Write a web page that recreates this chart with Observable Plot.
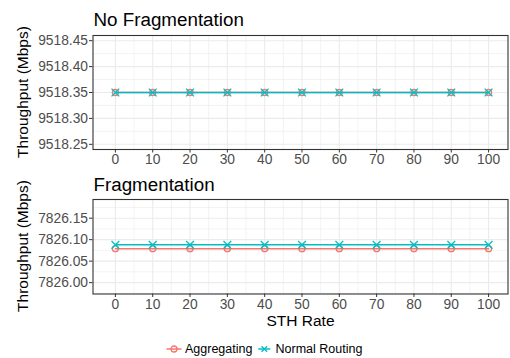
<!DOCTYPE html>
<html>
<head>
<meta charset="utf-8">
<script src="https://cdn.jsdelivr.net/npm/d3@7"></script>
<script src="https://cdn.jsdelivr.net/npm/@observablehq/plot@0.6"></script>
<style>
  html, body { margin: 0; padding: 0; background: white; }
  #root { position: relative; width: 510px; height: 358px; background: white; font-family: "Liberation Sans", Arial, Helvetica, sans-serif; overflow: hidden; }
  .abs { position: absolute; }
  .leg { position: absolute; font-size: 12.5px; line-height: 14px; color: black; white-space: nowrap; }
  .ytitle { position: absolute; font-size: 15.5px; line-height: 15.5px; color: black; white-space: nowrap; transform: translate(-50%, -50%) rotate(-90deg); }
</style>
</head>
<body>
<div id="root">
  <div id="p1" class="abs" style="left:0;top:0"></div>
  <div id="p2" class="abs" style="left:0;top:165px"></div>
  <div id="yt1" class="ytitle" style="left:23px;top:91.5px"></div>
  <div id="yt2" class="ytitle" style="left:23px;top:246px"></div>
  <svg class="abs" style="left:165px;top:342px" width="18" height="14">
    <line x1="1.5" x2="16.5" y1="7" y2="7" stroke="#F8766D" stroke-width="1.5"/>
    <circle cx="9" cy="7" r="3" fill="none" stroke="#F8766D" stroke-width="1.3"/>
  </svg>
  <div id="leg1" class="leg" style="left:185px;top:342px"></div>
  <svg class="abs" style="left:257px;top:342px" width="16" height="14">
    <line x1="1.3" x2="13.3" y1="7" y2="7" stroke="#00BFC4" stroke-width="1.5"/>
    <path d="M4.5,4.2L10.1,9.8M10.1,4.2L4.5,9.8" stroke="#00BFC4" stroke-width="1.3"/>
  </svg>
  <div id="leg2" class="leg" style="left:275.5px;top:342px"></div>
</div>
<script>
// ---- data ----
const sthRate = [0, 10, 20, 30, 40, 50, 60, 70, 80, 90, 100];

const noFragAggregating = [9518.35, 9518.35, 9518.35, 9518.35, 9518.35, 9518.35, 9518.35, 9518.35, 9518.35, 9518.35, 9518.35];
const noFragNormal      = [9518.35, 9518.35, 9518.35, 9518.35, 9518.35, 9518.35, 9518.35, 9518.35, 9518.35, 9518.35, 9518.35];

const fragAggregating = [7826.079, 7826.079, 7826.079, 7826.079, 7826.079, 7826.079, 7826.079, 7826.079, 7826.079, 7826.079, 7826.079];
const fragNormal      = [7826.088, 7826.088, 7826.088, 7826.088, 7826.088, 7826.088, 7826.088, 7826.088, 7826.088, 7826.088, 7826.088];

const xTicks = [0, 10, 20, 30, 40, 50, 60, 70, 80, 90, 100];
const xMinor = [5, 15, 25, 35, 45, 55, 65, 75, 85, 95];

const noFragYTicks = [9518.25, 9518.30, 9518.35, 9518.40, 9518.45];
const noFragYMinor = [9518.275, 9518.325, 9518.375, 9518.425];
const noFragYDomain = [9518.24, 9518.46];

const fragYTicks = [7826.00, 7826.05, 7826.10, 7826.15];
const fragYMinor = [7825.975, 7826.025, 7826.075, 7826.125, 7826.175];
const fragYDomain = [7825.9735, 7826.1935];

const seriesNames = ["Aggregating", "Normal Routing"];
const seriesColors = ["#F8766D", "#00BFC4"];

const panelTitles = ["No Fragmentation", "Fragmentation"];
const yTitle = "Throughput (Mbps)";
const xTitle = "STH Rate";

document.getElementById("yt1").textContent = yTitle;
document.getElementById("yt2").textContent = yTitle;
document.getElementById("leg1").textContent = seriesNames[0];
document.getElementById("leg2").textContent = seriesNames[1];

function panel({title, agg, norm, yDomain, yTicks, yMinor, height, marginTop, marginBottom, titleGap, showXTitle}) {
  const rows = sthRate.map((x, i) => ({x, agg: agg[i], norm: norm[i]}));
  const marks = [
    Plot.gridX(xMinor, {stroke: "#ebebeb", strokeOpacity: 1, strokeWidth: 0.6}),
    Plot.gridY(yMinor, {stroke: "#ebebeb", strokeOpacity: 1, strokeWidth: 0.6}),
    Plot.gridX(xTicks, {stroke: "#ebebeb", strokeOpacity: 1, strokeWidth: 1.1}),
    Plot.gridY(yTicks, {stroke: "#ebebeb", strokeOpacity: 1, strokeWidth: 1.1}),
    Plot.lineY(rows, {x: "x", y: "agg", stroke: seriesColors[0], strokeWidth: 1.5}),
    Plot.dot(rows, {x: "x", y: "agg", r: 3, stroke: seriesColors[0], strokeWidth: 1.3, fill: "none"}),
    Plot.lineY(rows, {x: "x", y: "norm", stroke: seriesColors[1], strokeWidth: 1.5}),
    Plot.dot(rows, {x: "x", y: "norm", symbol: "times", r: 3.6, stroke: seriesColors[1], strokeWidth: 1.3}),
    Plot.frame({stroke: "#333333", strokeWidth: 1.1}),
    Plot.axisX(xTicks, {tickSize: 3.5, tickPadding: 1.5, stroke: "#333333", fill: "#4d4d4d", label: null, tickFormat: d => String(d)}),
    Plot.axisY(yTicks, {tickSize: 3.5, tickPadding: 1.5, stroke: "#333333", fill: "#4d4d4d", label: null, tickFormat: d => d.toFixed(2)}),
    Plot.text([title], {frameAnchor: "top-left", textAnchor: "start", lineAnchor: "bottom", dx: 0.5, dy: -titleGap, fontSize: 18.8, fill: "black"})
  ];
  if (showXTitle) {
    marks.push(Plot.text([xTitle], {frameAnchor: "bottom", lineAnchor: "middle", dy: 27.5, fontSize: 15.5, fill: "black"}));
  }
  return Plot.plot({
    width: 510,
    height,
    marginLeft: 92.5,
    marginRight: 2.5,
    marginTop,
    marginBottom,
    style: {fontFamily: "'Liberation Sans', Arial, Helvetica, sans-serif", fontSize: "13.8px", background: "white", overflow: "visible"},
    x: {domain: [-6, 105.2]},
    y: {domain: yDomain},
    marks
  });
}

document.getElementById("p1").appendChild(panel({
  title: panelTitles[0], agg: noFragAggregating, norm: noFragNormal,
  yDomain: noFragYDomain, yTicks: noFragYTicks, yMinor: noFragYMinor,
  height: 165, marginTop: 35, marginBottom: 16, titleGap: 10, showXTitle: false
}));

document.getElementById("p2").appendChild(panel({
  title: panelTitles[1], agg: fragAggregating, norm: fragNormal,
  yDomain: fragYDomain, yTicks: fragYTicks, yMinor: fragYMinor,
  height: 170, marginTop: 34, marginBottom: 41.5, titleGap: 9, showXTitle: true
}));
</script>
</body>
</html>
